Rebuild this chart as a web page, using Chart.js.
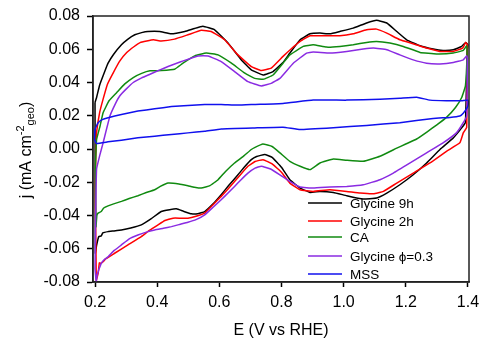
<!DOCTYPE html>
<html>
<head>
<meta charset="utf-8">
<script src="https://cdn.jsdelivr.net/npm/chart.js@4"></script>
<style>
  html, body { margin: 0; padding: 0; background: #fff; }
  #wrap { width: 480px; height: 339px; position: relative; }
</style>
</head>
<body>
<div id="wrap"><canvas id="myChart"></canvas></div>
<script>
// tick labels
const xTicks = [0.2, 0.4, 0.6, 0.8, 1.0, 1.2, 1.4];
const yTicks = [-0.08, -0.06, -0.04, -0.02, 0.00, 0.02, 0.04, 0.06, 0.08];

// series names
const names = ['Glycine 9h', 'Glycine 2h', 'CA', 'Glycine \u03d5=0.3', 'MSS'];

// Glycine 9h: anodic sweep then cathodic sweep (E in V, j in mA cm-2)
const g9E = [0.200, 0.205, 0.215, 0.230, 0.242, 0.260, 0.285, 0.305, 0.328, 0.350, 0.370, 0.408, 0.445, 0.489, 0.520, 0.547, 0.585, 0.628, 0.671, 0.703, 0.741, 0.773, 0.805, 0.827, 0.860, 0.892, 0.924, 0.956, 0.988, 1.031, 1.074, 1.106, 1.139, 1.171, 1.203, 1.246, 1.288, 1.320, 1.353, 1.380, 1.393, 1.400,
             1.398, 1.392, 1.380, 1.353, 1.310, 1.267, 1.224, 1.181, 1.139, 1.106, 1.063, 1.010, 0.967, 0.924, 0.892, 0.860, 0.827, 0.800, 0.770, 0.746, 0.720, 0.703, 0.680, 0.660, 0.630, 0.606, 0.580, 0.553, 0.530, 0.510, 0.485, 0.462, 0.440, 0.413, 0.380, 0.349, 0.315, 0.285, 0.260, 0.242, 0.225, 0.220, 0.212, 0.205, 0.201, 0.200];
const g9J = [0.0280, 0.0310, 0.0385, 0.0460, 0.0516, 0.0570, 0.0627, 0.0660, 0.0687, 0.0700, 0.0707, 0.0707, 0.0693, 0.0707, 0.0725, 0.0738, 0.0717, 0.0637, 0.0536, 0.0476, 0.0445, 0.0466, 0.0520, 0.0577, 0.0657, 0.0693, 0.0697, 0.0693, 0.0707, 0.0727, 0.0758, 0.0774, 0.0758, 0.0707, 0.0657, 0.0621, 0.0601, 0.0593, 0.0597, 0.0617, 0.0641, 0.0627,
             0.0600, 0.0160, 0.0127, 0.0067, -0.0003, -0.0084, -0.0155, -0.0215, -0.0265, -0.0295, -0.0301, -0.0281, -0.0261, -0.0255, -0.0261, -0.0235, -0.0185, -0.0110, -0.0050, -0.0033, -0.0045, -0.0064, -0.0110, -0.0155, -0.0220, -0.0275, -0.0330, -0.0376, -0.0390, -0.0390, -0.0375, -0.0360, -0.0365, -0.0376, -0.0420, -0.0456, -0.0475, -0.0487, -0.0493, -0.0497, -0.0505, -0.0523, -0.0527, -0.0580, -0.0627, 0.0280];

// Glycine 2h
const g2E = [0.201, 0.203, 0.205, 0.215, 0.226, 0.240, 0.259, 0.280, 0.302, 0.325, 0.345, 0.388, 0.413, 0.456, 0.499, 0.542, 0.574, 0.617, 0.660, 0.703, 0.735, 0.767, 0.805, 0.830, 0.860, 0.892, 0.935, 0.988, 1.031, 1.074, 1.106, 1.139, 1.181, 1.224, 1.267, 1.310, 1.353, 1.383, 1.393, 1.398,
             1.396, 1.385, 1.374, 1.331, 1.278, 1.224, 1.171, 1.128, 1.096, 1.053, 1.010, 0.956, 0.902, 0.860, 0.827, 0.800, 0.770, 0.741, 0.715, 0.692, 0.670, 0.649, 0.628, 0.606, 0.580, 0.553, 0.525, 0.499, 0.475, 0.451, 0.425, 0.403, 0.375, 0.349, 0.306, 0.263, 0.235, 0.226, 0.218, 0.214, 0.210, 0.204, 0.201];
const g2J = [-0.0200, 0.0000, 0.0100, 0.0220, 0.0300, 0.0390, 0.0460, 0.0530, 0.0580, 0.0615, 0.0640, 0.0657, 0.0650, 0.0661, 0.0687, 0.0714, 0.0707, 0.0657, 0.0566, 0.0496, 0.0472, 0.0486, 0.0557, 0.0600, 0.0647, 0.0681, 0.0681, 0.0681, 0.0693, 0.0717, 0.0721, 0.0697, 0.0657, 0.0633, 0.0607, 0.0587, 0.0587, 0.0607, 0.0641, 0.0627,
             0.0130, 0.0097, 0.0037, -0.0014, -0.0084, -0.0145, -0.0205, -0.0255, -0.0269, -0.0265, -0.0255, -0.0245, -0.0255, -0.0245, -0.0205, -0.0140, -0.0090, -0.0064, -0.0075, -0.0104, -0.0150, -0.0195, -0.0240, -0.0285, -0.0335, -0.0386, -0.0405, -0.0416, -0.0416, -0.0416, -0.0430, -0.0456, -0.0490, -0.0527, -0.0577, -0.0627, -0.0660, -0.0678, -0.0688, -0.0685, -0.0748, -0.0789, -0.0200];

// CA
const caE = [0.201, 0.205, 0.216, 0.226, 0.245, 0.270, 0.295, 0.323, 0.350, 0.377, 0.413, 0.456, 0.483, 0.521, 0.558, 0.596, 0.639, 0.682, 0.714, 0.741, 0.773, 0.805, 0.827, 0.870, 0.902, 0.945, 0.988, 1.031, 1.074, 1.106, 1.149, 1.192, 1.246, 1.299, 1.353, 1.385, 1.396,
             1.397, 1.392, 1.380, 1.360, 1.331, 1.300, 1.270, 1.235, 1.200, 1.171, 1.117, 1.063, 1.010, 0.967, 0.924, 0.892, 0.860, 0.827, 0.795, 0.770, 0.740, 0.715, 0.703, 0.680, 0.649, 0.620, 0.596, 0.570, 0.542, 0.520, 0.499, 0.470, 0.435, 0.410, 0.392, 0.365, 0.338, 0.310, 0.285, 0.260, 0.242, 0.228, 0.220, 0.210, 0.206, 0.203, 0.201];
const caJ = [-0.0120, 0.0056, 0.0137, 0.0218, 0.0290, 0.0340, 0.0390, 0.0430, 0.0455, 0.0470, 0.0472, 0.0480, 0.0516, 0.0560, 0.0577, 0.0566, 0.0516, 0.0456, 0.0425, 0.0419, 0.0445, 0.0516, 0.0566, 0.0617, 0.0627, 0.0613, 0.0617, 0.0627, 0.0641, 0.0647, 0.0637, 0.0617, 0.0581, 0.0572, 0.0577, 0.0593, 0.0621,
             0.0550, 0.0380, 0.0310, 0.0250, 0.0190, 0.0145, 0.0105, 0.0060, 0.0030, 0.0005, -0.0044, -0.0074, -0.0068, -0.0060, -0.0084, -0.0124, -0.0104, -0.0074, -0.0023, 0.0015, 0.0030, 0.0010, -0.0003, -0.0040, -0.0084, -0.0135, -0.0185, -0.0220, -0.0235, -0.0230, -0.0221, -0.0210, -0.0205, -0.0225, -0.0245, -0.0262, -0.0281, -0.0298, -0.0315, -0.0330, -0.0342, -0.0355, -0.0376, -0.0386, -0.0400, -0.0467, -0.0120];

// Glycine phi=0.3
const gpE = [0.200, 0.202, 0.205, 0.215, 0.226, 0.248, 0.265, 0.280, 0.300, 0.323, 0.350, 0.377, 0.409, 0.435, 0.478, 0.531, 0.564, 0.606, 0.649, 0.692, 0.735, 0.767, 0.795, 0.838, 0.881, 0.902, 0.956, 1.010, 1.063, 1.096, 1.139, 1.181, 1.224, 1.267, 1.310, 1.353, 1.385, 1.396,
             1.398, 1.396, 1.385, 1.363, 1.320, 1.267, 1.214, 1.160, 1.117, 1.063, 1.010, 0.956, 0.902, 0.860, 0.827, 0.795, 0.765, 0.735, 0.715, 0.692, 0.670, 0.649, 0.628, 0.606, 0.580, 0.553, 0.525, 0.499, 0.470, 0.446, 0.420, 0.392, 0.365, 0.338, 0.310, 0.285, 0.262, 0.242, 0.230, 0.220, 0.207, 0.204, 0.200];
const gpJ = [-0.0720, -0.0400, -0.0120, -0.0040, 0.0037, 0.0198, 0.0270, 0.0320, 0.0360, 0.0400, 0.0428, 0.0450, 0.0476, 0.0496, 0.0526, 0.0560, 0.0560, 0.0526, 0.0466, 0.0405, 0.0379, 0.0395, 0.0425, 0.0516, 0.0577, 0.0583, 0.0577, 0.0587, 0.0601, 0.0607, 0.0597, 0.0566, 0.0536, 0.0516, 0.0512, 0.0520, 0.0536, 0.0560,
             0.0550, 0.0200, 0.0158, 0.0097, 0.0037, -0.0023, -0.0084, -0.0145, -0.0185, -0.0215, -0.0225, -0.0229, -0.0235, -0.0229, -0.0195, -0.0155, -0.0120, -0.0104, -0.0115, -0.0145, -0.0185, -0.0225, -0.0265, -0.0305, -0.0350, -0.0396, -0.0425, -0.0441, -0.0455, -0.0467, -0.0477, -0.0487, -0.0500, -0.0517, -0.0540, -0.0577, -0.0610, -0.0648, -0.0665, -0.0688, -0.0758, -0.0800, -0.0720];

// MSS
const msE = [0.198, 0.200, 0.210, 0.225, 0.242, 0.285, 0.338, 0.392, 0.446, 0.499, 0.553, 0.606, 0.660, 0.714, 0.805, 0.902, 1.010, 1.117, 1.181, 1.235, 1.278, 1.331, 1.380, 1.400,
             1.401, 1.398, 1.385, 1.374, 1.342, 1.288, 1.181, 1.074, 0.967, 0.860, 0.805, 0.714, 0.606, 0.553, 0.499, 0.446, 0.392, 0.338, 0.285, 0.242, 0.204, 0.198];
const msJ = [0.0060, 0.0118, 0.0158, 0.0178, 0.0188, 0.0208, 0.0228, 0.0242, 0.0255, 0.0262, 0.0268, 0.0268, 0.0264, 0.0268, 0.0274, 0.0294, 0.0294, 0.0299, 0.0305, 0.0311, 0.0294, 0.0290, 0.0290, 0.0294,
             0.0270, 0.0250, 0.0215, 0.0198, 0.0190, 0.0184, 0.0158, 0.0142, 0.0128, 0.0117, 0.0131, 0.0127, 0.0121, 0.0107, 0.0097, 0.0087, 0.0077, 0.0067, 0.0053, 0.0043, 0.0033, 0.0060];

const colors = ['#000000', '#ff0000', '#108a10', '#8a2be2', '#1010ee'];
const FONT = 'Liberation Sans, Arial, sans-serif';

let toPts = (xs, ys) => xs.map((x, i) => ({x: x, y: ys[i]}));
const series = [toPts(g9E, g9J), toPts(g2E, g2J), toPts(caE, caJ), toPts(gpE, gpJ), toPts(msE, msJ)];

// box round the plot
const framePlugin = {
  id: 'frame',
  afterDatasetsDraw(chart) {
    const a = chart.chartArea, ctx = chart.ctx;
    ctx.save();
    ctx.strokeStyle = '#222';
    ctx.lineWidth = 1.5;
    ctx.strokeRect(a.left, a.top, a.right - a.left, a.bottom - a.top);
    ctx.restore();
  }
};

// legend in the lower right corner
const legendPlugin = {
  id: 'cornerLegend',
  afterDraw(chart) {
    const ctx = chart.ctx;
    const rows = [203, 221, 237, 256, 274];
    ctx.save();
    ctx.font = '13.5px ' + FONT;
    ctx.textBaseline = 'middle';
    names.forEach((n, i) => {
      ctx.strokeStyle = colors[i];
      ctx.lineWidth = 1.5;
      ctx.beginPath();
      ctx.moveTo(308, rows[i]);
      ctx.lineTo(342, rows[i]);
      ctx.stroke();
      ctx.fillStyle = '#000';
      ctx.fillText(n, 350, rows[i] + 1);
    });
    ctx.restore();
  }
};

// y title with super and subscript
const yTitlePlugin = {
  id: 'yTitle',
  afterDraw(chart) {
    const ctx = chart.ctx;
    const parts = [
      {t: 'j (mA cm', size: 16, dy: 0},
      {t: '-2', size: 11, dy: -7},
      {t: 'geo', size: 11, dy: 3},
      {t: ')', size: 16, dy: 0}
    ];
    ctx.save();
    parts.forEach(p => { ctx.font = p.size + 'px ' + FONT; p.w = ctx.measureText(p.t).width; });
    const total = parts.reduce((s, p) => s + p.w, 0);
    ctx.translate(31, 150);
    ctx.rotate(-Math.PI / 2);
    ctx.fillStyle = '#000';
    ctx.textBaseline = 'alphabetic';
    let x = -total / 2;
    parts.forEach(p => {
      ctx.font = p.size + 'px ' + FONT;
      ctx.fillText(p.t, x, p.dy);
      x += p.w;
    });
    ctx.restore();
  }
};

new Chart('myChart', {
  type: 'scatter',
  data: {
    datasets: series.map((pts, i) => ({
      label: names[i],
      data: pts,
      showLine: true,
      borderColor: colors[i],
      backgroundColor: colors[i],
      borderWidth: 1.5,
      pointRadius: 0,
      tension: 0.1,
      order: 4 - i
    }))
  },
  options: {
    responsive: true,
    maintainAspectRatio: false,
    animation: false,
    layout: {padding: {top: 16, right: 11, left: 0, bottom: 0}},
    plugins: {legend: {display: false}, tooltip: {enabled: false}},
    scales: {
      x: {
        type: 'linear',
        min: 0.1935,
        max: 1.4035,
        afterBuildTicks: s => { s.ticks = xTicks.map(v => ({value: v})); },
        afterFit: s => { s.height = 57; s.paddingLeft = 0; s.paddingRight = 0; },
        ticks: {
          callback: v => v.toFixed(1),
          color: '#000',
          font: {family: FONT, size: 16},
          padding: 6,
          maxRotation: 0
        },
        grid: {drawOnChartArea: false, tickLength: 5, tickColor: '#000', tickWidth: 1.5},
        border: {color: '#222', width: 1.5},
        title: {display: true, text: 'E (V vs RHE)', color: '#000', font: {family: FONT, size: 16, lineHeight: 1}, padding: 0}
      },
      y: {
        type: 'linear',
        min: -0.08,
        max: 0.08,
        afterBuildTicks: s => { s.ticks = yTicks.map(v => ({value: v})); },
        afterFit: s => { s.width = 93; s.paddingTop = 0; s.paddingBottom = 0; },
        ticks: {
          callback: v => v.toFixed(2),
          color: '#000',
          font: {family: FONT, size: 16},
          padding: 7
        },
        grid: {drawOnChartArea: false, tickLength: 6, tickColor: '#000', tickWidth: 1.5},
        border: {color: '#222', width: 1.5}
      }
    }
  },
  plugins: [framePlugin, legendPlugin, yTitlePlugin]
});
</script>
</body>
</html>
